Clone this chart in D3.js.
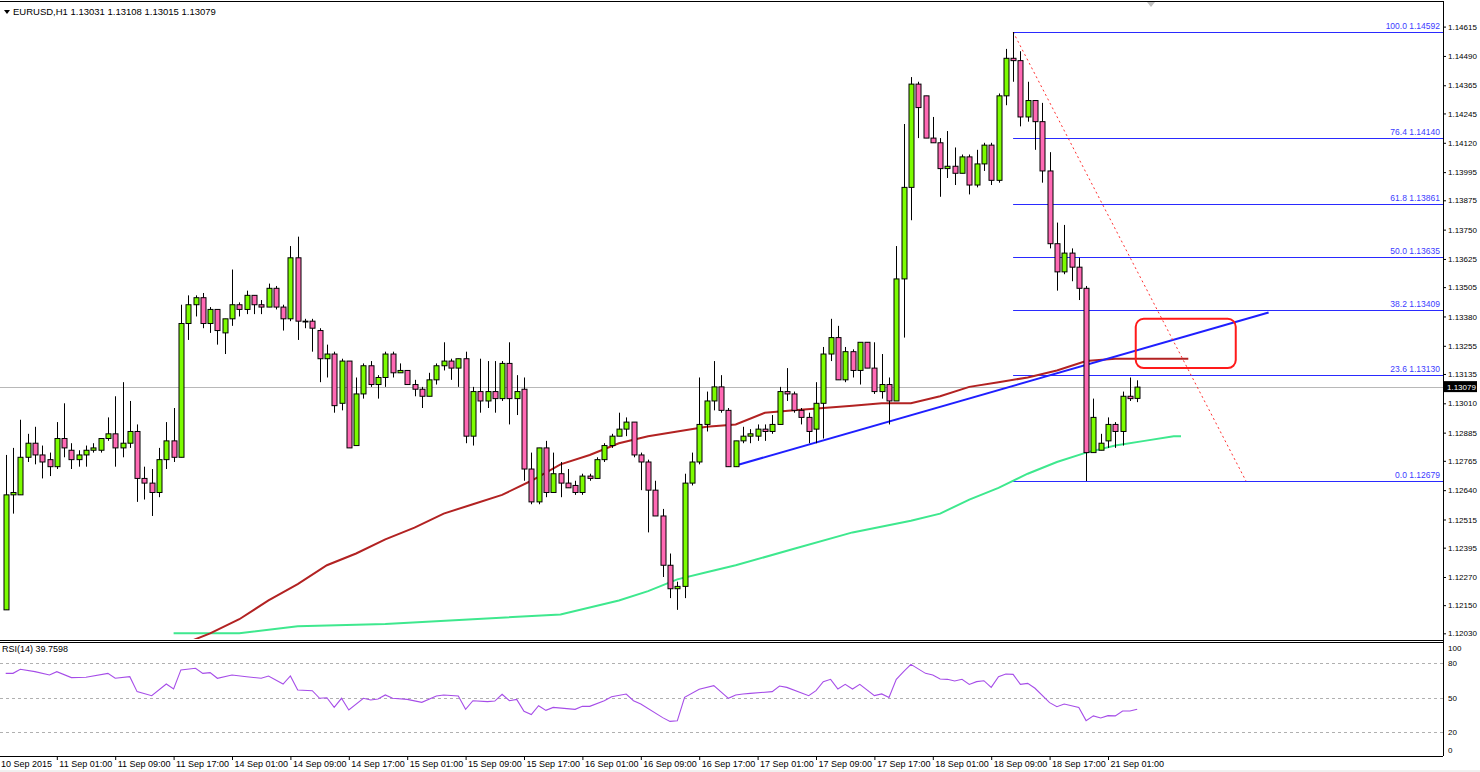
<!DOCTYPE html>
<html><head><meta charset="utf-8">
<script src="https://cdn.jsdelivr.net/npm/d3@7"></script>
<style>body{margin:0;background:#fff}svg{display:block;font-family:"Liberation Sans",Arial,sans-serif}</style>
</head><body><svg id="c" width="1480" height="772"></svg>
<script>
const title = "EURUSD,H1  1.13031 1.13108 1.13015 1.13079";
const open = [1.1213,1.1262,1.1262,1.1278,1.1284,1.1279,1.1277,1.1274,1.1286,1.1281,
1.1277,1.1279,1.1281,1.1281,1.1286,1.1288,1.1282,1.1284,1.1289,1.1269,
1.1267,1.1263,1.1277,1.1285,1.1278,1.1335,1.1343,1.1346,1.1335,1.1341,
1.1331,1.1337,1.1343,1.1341,1.1347,1.1343,1.1342,1.1350,1.1342,1.1337,
1.1363,1.1336,1.1336,1.1332,1.1320,1.1322,1.1301,1.1319,1.1283,1.1305,
1.1317,1.1309,1.1312,1.1322,1.1314,1.1315,1.1309,1.1307,1.1304,1.1311,
1.1317,1.1319,1.1316,1.1320,1.1287,1.1306,1.1302,1.1306,1.1303,1.1318,
1.1303,1.1307,1.1273,1.1259,1.1282,1.1263,1.1271,1.1267,1.1266,1.1263,
1.1270,1.1269,1.1277,1.1283,1.1287,1.1290,1.1293,1.1279,1.1276,1.1264,
1.1253,1.1232,1.1222,1.1223,1.1267,1.1276,1.1292,1.1302,1.1308,1.1298,
1.1274,1.1285,1.1287,1.1287,1.1290,1.1289,1.1292,1.1306,1.1305,1.1298,
1.1295,1.1290,1.1301,1.1322,1.1329,1.1311,1.1323,1.1315,1.1327,1.1316,
1.1306,1.1309,1.1302,1.1354,1.1393,1.1437,1.1432,1.1414,1.1412,1.1401,
1.1402,1.1399,1.1406,1.1394,1.1403,1.1411,1.1396,1.1432,1.1448,1.1447,
1.1423,1.1430,1.1421,1.1400,1.1369,1.1357,1.1365,1.1359,1.1350,1.1280,
1.1281,1.1285,1.1292,1.1289,1.1304,1.13031];
const high = [1.1279,1.1282,1.1294,1.1288,1.1291,1.1283,1.1280,1.1293,1.1301,1.1284,
1.1281,1.1283,1.1284,1.1286,1.1295,1.1304,1.1310,1.1302,1.1292,1.1274,
1.1273,1.1282,1.1293,1.1299,1.1343,1.1347,1.1347,1.1348,1.1342,1.1341,
1.1337,1.1358,1.1344,1.1349,1.1347,1.1345,1.1352,1.1351,1.1343,1.1368,
1.1372,1.1337,1.1337,1.1333,1.1326,1.1323,1.1320,1.1319,1.1312,1.1318,
1.1319,1.1313,1.1323,1.1323,1.1318,1.1315,1.1311,1.1308,1.1314,1.1318,
1.1327,1.1320,1.1320,1.1323,1.1308,1.1320,1.1319,1.1319,1.1319,1.1327,
1.1313,1.1312,1.1280,1.1282,1.1285,1.1280,1.1276,1.1273,1.1268,1.1271,
1.1271,1.1278,1.1284,1.1288,1.1297,1.1295,1.1293,1.1280,1.1277,1.1268,
1.1256,1.1237,1.1225,1.1271,1.1280,1.1312,1.1306,1.1319,1.1313,1.1299,
1.1285,1.1291,1.1290,1.1292,1.1292,1.1296,1.1308,1.1316,1.1306,1.1299,
1.1297,1.1310,1.1325,1.1337,1.1334,1.1325,1.1324,1.1327,1.1327,1.1327,
1.1322,1.1312,1.1368,1.1420,1.1440,1.1438,1.1432,1.1423,1.1414,1.1417,
1.1410,1.1407,1.1407,1.1409,1.1412,1.1412,1.1433,1.1452,1.14592,1.1451,
1.1438,1.1430,1.1429,1.1408,1.1378,1.1377,1.1367,1.1363,1.1351,1.1303,
1.1288,1.1295,1.1293,1.1306,1.1312,1.13108];
const low = [1.1213,1.1254,1.1262,1.1276,1.1275,1.1269,1.1270,1.1273,1.1278,1.1273,
1.1274,1.1274,1.1280,1.1280,1.1285,1.1274,1.1278,1.1282,1.1259,1.1260,
1.1253,1.1261,1.1273,1.1276,1.1278,1.1328,1.1338,1.1333,1.1331,1.1326,
1.1322,1.1334,1.1338,1.1339,1.1339,1.1339,1.1342,1.1341,1.1332,1.1336,
1.1328,1.1333,1.1323,1.1310,1.1312,1.1297,1.1298,1.1282,1.1283,1.1303,
1.1308,1.1303,1.1308,1.1312,1.1314,1.1309,1.1304,1.1299,1.1304,1.1309,
1.1315,1.1311,1.1308,1.1284,1.1283,1.1297,1.1299,1.1297,1.1302,1.1292,
1.1296,1.1268,1.1258,1.1258,1.1261,1.1263,1.1261,1.1265,1.1262,1.1262,
1.1268,1.1269,1.1276,1.1282,1.1287,1.1287,1.1278,1.1264,1.1246,1.1253,
1.1227,1.1218,1.1213,1.1218,1.1266,1.1275,1.1289,1.1298,1.1297,1.1274,
1.1274,1.1284,1.1284,1.1285,1.1285,1.1288,1.1292,1.1302,1.1297,1.1292,
1.1284,1.1284,1.1286,1.1319,1.1311,1.1310,1.1312,1.1309,1.1316,1.1305,
1.1303,1.1292,1.1302,1.1329,1.1379,1.1414,1.1414,1.1412,1.1389,1.1397,
1.1394,1.1399,1.1390,1.1393,1.1400,1.1394,1.1395,1.1428,1.1438,1.1419,
1.1421,1.1409,1.1395,1.1367,1.1349,1.1356,1.1353,1.1345,1.12679,1.1280,
1.1281,1.1282,1.1282,1.1283,1.1302,1.13015];
const close = [1.1262,1.1263,1.1278,1.1284,1.1279,1.1276,1.1274,1.1286,1.1282,1.1277,
1.1279,1.1281,1.1282,1.1286,1.1288,1.1282,1.1284,1.1289,1.1269,1.1267,
1.1263,1.1277,1.1285,1.1278,1.1335,1.1343,1.1346,1.1335,1.1341,1.1332,
1.1337,1.1343,1.1341,1.1347,1.1343,1.1342,1.1350,1.1342,1.1337,1.1363,
1.1336,1.1336,1.1333,1.1320,1.1322,1.1300,1.1319,1.1282,1.1305,1.1317,
1.1309,1.1312,1.1322,1.1314,1.1315,1.1309,1.1307,1.1304,1.1311,1.1317,
1.1319,1.1316,1.1320,1.1287,1.1306,1.1302,1.1306,1.1303,1.1318,1.1303,
1.1306,1.1273,1.1259,1.1282,1.1263,1.1271,1.1267,1.1265,1.1263,1.1270,
1.1269,1.1277,1.1283,1.1287,1.1290,1.1293,1.1279,1.1276,1.1264,1.1253,
1.1232,1.1222,1.1223,1.1267,1.1276,1.1292,1.1302,1.1308,1.1298,1.1274,
1.1285,1.1287,1.1288,1.1290,1.1289,1.1292,1.1306,1.1305,1.1298,1.1295,
1.1289,1.1301,1.1322,1.1329,1.1311,1.1323,1.1315,1.1327,1.1316,1.1306,
1.1309,1.1302,1.1354,1.1393,1.1437,1.1427,1.1414,1.1412,1.1401,1.1402,
1.1399,1.1406,1.1394,1.1403,1.1411,1.1396,1.1432,1.1448,1.1447,1.1423,
1.1430,1.1421,1.1400,1.1369,1.1357,1.1365,1.1359,1.1350,1.1280,1.1295,
1.1284,1.1292,1.1289,1.1304,1.1303,1.13079];

const maRedBars = [24,28,32,36,40,44,48,52,56,60,64,68,72,76,80,84,88,92,96,100,104,108,112,116,120,124,128,132,136,140,144,148,152,156,160,162];
const maRedVals = [1.1198,1.1203,1.1209,1.1217,1.1224,1.1232,1.1237,1.1243,1.1248,1.1254,1.1258,1.1262,1.1268,1.1275,1.1279,1.1284,1.1287,1.1289,1.1291,1.1292,1.1297,1.1298,1.1299,1.1300,1.1301,1.1301,1.1304,1.1308,1.1310,1.1312,1.1315,1.1319,1.1320,1.1320,1.1320,1.1320];
const maGreenBars = [23,32,40,52,64,76,84,88,92,96,100,108,116,124,128,132,136,140,144,148,152,156,160,161];
const maGreenVals = [1.1203,1.1203,1.1206,1.1207,1.1209,1.1211,1.1217,1.1221,1.1226,1.1229,1.1232,1.1239,1.1246,1.1251,1.1254,1.1260,1.1265,1.1271,1.1276,1.1280,1.1283,1.1285,1.1287,1.1287];

const rsiBars = [0,1,2,4,6,7,9,11,14,15,17,18,20,22,23,24,26,27,28,29,31,33,35,36,38,39,40,42,43,44,45,46,47,49,50,51,52,53,55,57,59,60,62,63,64,66,67,68,69,70,71,72,73,74,75,78,79,80,82,83,85,86,87,90,91,92,93,95,97,99,100,101,
102,105,106,107,110,111,112,113,114,115,116,117,119,120,121,122,123,124,126,127,128,129,130,131,132,133,134,135,136,137,138,139,140,141,143,144,145,147,148,149,150,151,152,153,154,155];
const rsiVals = [71,71,74.5,72.5,69.6,72.5,67.3,67.6,71,66.7,68.1,55.1,51.6,61.7,57.4,74,75.4,71,71.6,66.7,69.6,68.1,66.7,68.7,61.7,68.7,56.5,55.9,49.3,49.8,41.5,49.3,39.1,49.3,47.8,48.7,52.2,49.3,48.4,45.8,51.3,52.2,51.3,39.7,47.2,46.4,46.9,52.8,47.2,48.4,38.0,35.2,42.9,38.8,41.4,39.7,42.3,42.3,47.2,50.7,53,47.2,44.3,32.5,29.2,29.7,50.1,57.1,60.3,49.3,52.2,53,
53.6,55.1,60,58.8,51.6,56,63.8,65.8,57.4,61.4,57.4,61.4,51.6,53.1,50.1,65.8,72.5,78.8,71,69.6,66.1,65.8,64.3,65.8,61.4,63.8,64.6,58.8,68.1,70.4,70.1,61.4,62.3,58,45.5,42,44.3,41.4,29.9,34,32.2,34.2,34,38.3,38.3,39.76];
const rsiLast = 39.7598;

const fibLevels = ["100.0","76.4","61.8","50.0","38.2","23.6","0.0"];
const fibPrices = [1.14592,1.14140,1.13861,1.13635,1.13409,1.13130,1.12679];
const fibStartBar = 138;
const trendBars = [100, 173];
const trendPrices = [1.12745, 1.13397];
const dashBars = [138, 169.9];
const dashPrices = [1.14592, 1.12679];
const boxBars = [154.8, 168.5];
const boxPrices = [1.1337, 1.1316];
const lastPrice = 1.13079;
const priceTicks = [1.14615,1.14490,1.14365,1.14245,1.14120,1.13995,1.13875,1.13750,1.13625,1.13505,1.13380,1.13255,1.13135,1.13010,1.12885,1.12765,1.12640,1.12515,1.12395,1.12270,1.12150,1.12030];
const rsiLevels = [80,50,20];
const rsiAxisLabels = [100,80,50,20,0];
const timeBars = [-1,7,15,23,31,39,47,55,63,71,79,87,95,103,111,119,127,135,143,151];
const timeLabels = ["10 Sep 2015","11 Sep 01:00","11 Sep 09:00","11 Sep 17:00","14 Sep 01:00","14 Sep 09:00","14 Sep 17:00","15 Sep 01:00","15 Sep 09:00","15 Sep 17:00","16 Sep 01:00","16 Sep 09:00","16 Sep 17:00","17 Sep 01:00","17 Sep 09:00","17 Sep 17:00","18 Sep 01:00","18 Sep 09:00","18 Sep 17:00","21 Sep 01:00"];

const svg = d3.select("#c");
const FONT = "Liberation Sans";
const W = 1480, plotR = 1443, mainTop = 3, mainBot = 639, rsiTop = 643, rsiBot = 756;
const x = d3.scaleLinear().domain([0,155]).range([5.7, 5.7+7.3*155]);
const y = d3.scaleLinear().domain([1.12679,1.14592]).range([481,32]);
const ry = d3.scaleLinear().domain([0,100]).range([755,640]);

svg.append("clipPath").attr("id","mc").append("rect").attr("x",0).attr("y",mainTop).attr("width",plotR).attr("height",mainBot-mainTop);
svg.append("clipPath").attr("id","rc").append("rect").attr("x",0).attr("y",rsiTop).attr("width",plotR).attr("height",rsiBot-rsiTop);

const main = svg.append("g").attr("clip-path","url(#mc)");
main.append("line").attr("x1",0).attr("x2",plotR).attr("y1",Math.round(y(lastPrice))+0.5).attr("y2",Math.round(y(lastPrice))+0.5).attr("stroke","#b8b8b8");
fibPrices.forEach((p,i)=>{
  main.append("line").attr("x1",x(fibStartBar)).attr("x2",plotR).attr("y1",Math.round(y(p))+0.5).attr("y2",Math.round(y(p))+0.5).attr("stroke","#2a2aff").attr("stroke-width",1);
  main.append("text").attr("x",plotR-3).attr("y",y(p)-3).attr("text-anchor","end").attr("font-size",8.5).attr("fill","#3b3bff").text(fibLevels[i]+" "+d3.format(".5f")(p));
});
const ln = d3.line().x(d=>x(d[0])).y(d=>y(d[1]));
main.append("path").attr("d",ln(maGreenBars.map((b,i)=>[b,maGreenVals[i]]))).attr("fill","none").attr("stroke","#3ee88e").attr("stroke-width",2);
main.append("path").attr("d",ln(maRedBars.map((b,i)=>[b,maRedVals[i]]))).attr("fill","none").attr("stroke","#b22222").attr("stroke-width",2);
main.append("line").attr("x1",x(trendBars[0])).attr("y1",y(trendPrices[0])).attr("x2",x(trendBars[1])).attr("y2",y(trendPrices[1])).attr("stroke","#1f1fff").attr("stroke-width",2);
main.append("line").attr("x1",x(dashBars[0])).attr("y1",y(dashPrices[0])).attr("x2",x(dashBars[1])).attr("y2",y(dashPrices[1])).attr("stroke","#ff3030").attr("stroke-width",1).attr("stroke-dasharray","2,3");
main.append("rect").attr("x",x(boxBars[0])).attr("y",y(boxPrices[0])).attr("width",x(boxBars[1])-x(boxBars[0])).attr("height",y(boxPrices[1])-y(boxPrices[0])).attr("rx",8).attr("fill","none").attr("stroke","#ff1a1a").attr("stroke-width",2);
const cg = main.append("g");
open.forEach((o,i)=>{
  const c = close[i], up = c>=o, cx = Math.round(x(i))+0.5;
  cg.append("line").attr("x1",cx).attr("x2",cx).attr("y1",y(high[i])).attr("y2",y(low[i])).attr("stroke","#000");
  const t = y(Math.max(o,c)), b = y(Math.min(o,c));
  cg.append("rect").attr("x",cx-2.5).attr("y",t).attr("width",5).attr("height",Math.max(b-t,0.8)).attr("fill",up?"#7cfc00":"#ff69b4").attr("stroke","#000").attr("stroke-width",1);
});
svg.append("path").attr("d","M4,10 L10,10 L7,14 Z").attr("fill","#000");
svg.append("text").attr("x",13).attr("y",15).attr("font-size",9.5).attr("fill","#000").text(title);
svg.append("path").attr("d","M1147,2 L1155,2 L1151,7 Z").attr("fill","#c0c0c0");

const pa = svg.append("g").attr("transform",`translate(${plotR},0)`).call(d3.axisRight(y).tickValues(priceTicks).tickFormat(d3.format(".5f")).tickSize(3).tickPadding(2).tickSizeOuter(0));
pa.select(".domain").remove();
pa.selectAll("text").attr("font-size",8).attr("fill","#000").attr("font-family",FONT);
pa.selectAll("line").attr("stroke","#000");
svg.append("rect").attr("x",plotR+1).attr("y",y(lastPrice)-6).attr("width",33).attr("height",11).attr("fill","#000");
svg.append("text").attr("x",plotR+4).attr("y",y(lastPrice)+3).attr("font-size",8).attr("fill","#fff").text(d3.format(".5f")(lastPrice));

const rg = svg.append("g").attr("clip-path","url(#rc)");
rsiLevels.forEach(l=>rg.append("line").attr("x1",0).attr("x2",plotR).attr("y1",Math.round(ry(l))+0.5).attr("y2",Math.round(ry(l))+0.5).attr("stroke","#b0b0b0").attr("stroke-dasharray","3,3"));
const rl = d3.line().x(d=>x(d[0])).y(d=>ry(d[1]));
rg.append("path").attr("d",rl(rsiBars.map((b,i)=>[b,rsiVals[i]]))).attr("fill","none").attr("stroke","#a64de8").attr("stroke-width",1.1);
svg.append("text").attr("x",2).attr("y",652).attr("font-size",9).text("RSI(14) "+d3.format(".4f")(rsiLast));
rsiAxisLabels.forEach(l=>{
  const yy = Math.min(Math.max(ry(l),648),750);
  svg.append("text").attr("x",plotR+5).attr("y",yy+3).attr("font-size",8).text(l);
});

svg.append("line").attr("x1",0).attr("x2",plotR).attr("y1",1.5).attr("y2",1.5).attr("stroke","#000");
svg.append("line").attr("x1",plotR+0.5).attr("x2",plotR+0.5).attr("y1",1).attr("y2",rsiBot).attr("stroke","#000");
svg.append("line").attr("x1",0).attr("x2",plotR).attr("y1",640.5).attr("y2",640.5).attr("stroke","#000");
svg.append("line").attr("x1",0).attr("x2",plotR).attr("y1",642.5).attr("y2",642.5).attr("stroke","#000");
svg.append("line").attr("x1",0).attr("x2",plotR).attr("y1",rsiBot+0.5).attr("y2",rsiBot+0.5).attr("stroke","#000");

const ta = svg.append("g").attr("transform",`translate(0,${rsiBot})`).call(d3.axisBottom(x).tickValues(timeBars).tickFormat((d,i)=>timeLabels[i]).tickSize(4).tickSizeOuter(0));
ta.select(".domain").remove();
ta.selectAll("text").attr("text-anchor","start").attr("font-size",9).attr("font-family",FONT).attr("fill","#000").attr("dx",2).attr("y",5);
ta.selectAll("line").attr("stroke","#000");
svg.append("line").attr("x1",0).attr("x2",W).attr("y1",771).attr("y2",771).attr("stroke","#e0e0e0");
</script></body></html>
